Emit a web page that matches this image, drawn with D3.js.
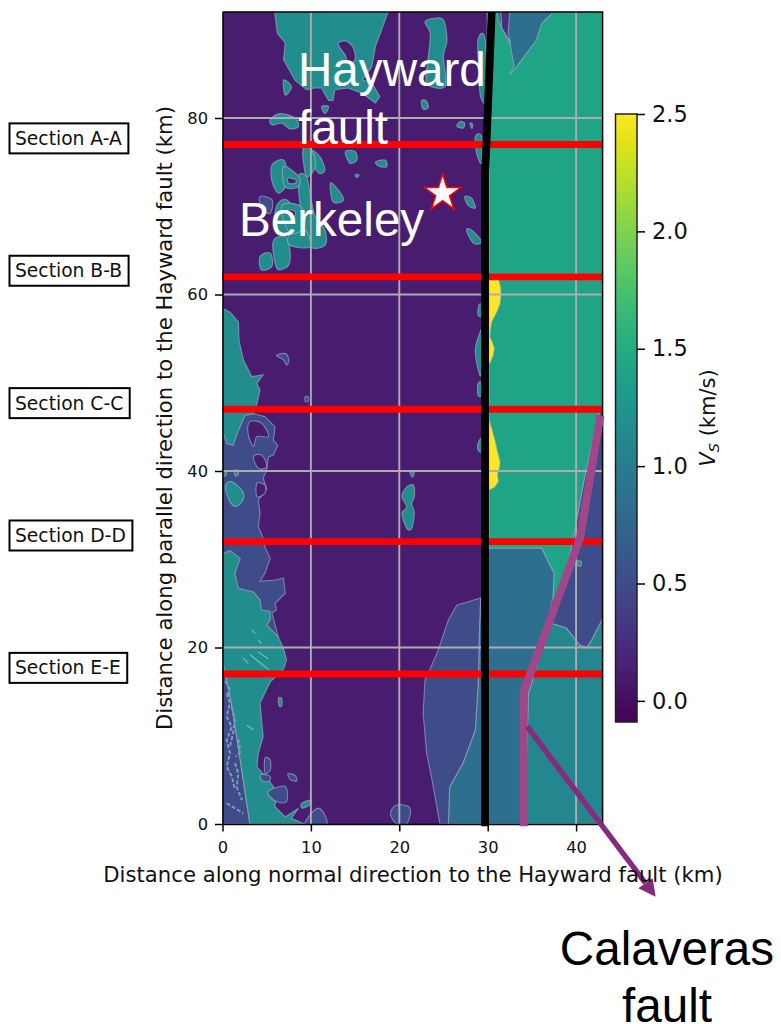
<!DOCTYPE html>
<html>
<head>
<meta charset="utf-8">
<style>
  body { margin: 0; background: #fff; }
  svg { display: block; }
</style>
<script src="https://cdn.jsdelivr.net/npm/d3@7"></script>
</head>
<body>
<script>
// tick labels
const xTicks = [0, 10, 20, 30, 40];
const yTicks = [0, 20, 40, 60, 80];
const cbarTicks = [0, 0.5, 1, 1.5, 2, 2.5];
const sectionNames = ["Section A-A", "Section B-B", "Section C-C", "Section D-D", "Section E-E"];
const sectionKm = [77, 62, 47, 32, 17];

// Vs of each unit (km/s)
const vsBay = 0.12, vsTeal = 1.17, vsGreen = 1.42, vsYellow = 2.5;
const vsBlue = 0.84, vsIndigo = 0.5, vsRightTeal = 1.1;

// unit outlines, [km normal, km parallel]
const greenBlock = [[30.15,92],[43,92],[43,47.7],[42.3,45.4],[41,39.35],[39.7,32.35],[39.3,30.5],[37.6,25],[37.4,25.8],[37.5,28.4],[36.1,31.25],[30.15,31.25]];
const topBlue = [[31.1,92],[37.4,92],[36.1,90.7],[35.5,88.8],[33.1,85.6],[32.5,84.9],[33,85.9],[32.5,88.5],[31.2,91.1]];
const topDark = [[31.5,92],[32.5,92],[32.3,89.6],[32.6,88.5],[31.6,90.2]];
const yellowNorth = [[30.15,61.8],[31.2,61.8],[31.45,60.8],[31.5,59.9],[31.4,59],[31.1,58.2],[30.8,57.6],[30.45,56.9],[30.3,56],[30.25,55.2],[30.5,54.6],[30.75,53.9],[30.6,53.1],[30.25,52.2],[30.15,52.2]];
const yellowSouth = [[30.15,45.8],[30.5,44.6],[30.8,43.5],[31.1,42.2],[31.4,41],[31.3,40.3],[31.1,39.7],[31.2,38.8],[30.8,38.2],[30.25,37.9],[30.15,37.9]];
const basinIndigo = [[29.2,25.6],[26.5,24.8],[25.55,23.1],[24.4,19.7],[23.5,17.6],[22.9,16.3],[22.7,12.5],[23.1,8],[23.7,5],[24.6,0],[25.55,0],[25.7,4.2],[27.2,6.9],[28.6,10.65],[28.95,16.3],[29.05,21.6]];
const basinBlue = [[30.15,31.25],[36.1,31.25],[37.5,28.4],[37.4,25.8],[36.85,23.1],[35.35,17.1],[34.6,14.8],[34.2,0],[25.55,0],[25.7,4.2],[27.2,6.9],[28.6,10.65],[28.95,16.3],[29.05,21.6],[29.2,25.6],[29.7,25.6]];
const eastIndigo = [[43,47.7],[42.3,45.4],[41,39.35],[39.7,32.35],[39.3,30.5],[37.6,25],[36.85,23.1],[37.4,22.7],[38.9,22.2],[40.4,20.3],[41.2,20],[41.75,20.85],[43,23.3]];
const eastTeal = [[36.85,23.1],[37.4,22.7],[38.9,22.2],[40.4,20.3],[41.2,20],[41.75,20.85],[43,23.3],[43,0],[34.2,0],[34.6,14.8],[35.35,17.1]];
const westIndigo = [[0,46.5],[3.5,46.5],[4.8,46.15],[5.95,45],[5.75,43.5],[6.25,42.9],[5.75,41.8],[5.2,41.6],[5,40.1],[4.6,39.2],[5,38],[4.05,36.7],[4.25,35.2],[4.05,33.7],[4.6,32.4],[4.8,31.4],[5.4,30.1],[4.8,28.4],[4.25,27.5],[5.95,27.65],[6.9,27.85],[7.1,26.15],[5.95,25],[6.1,24.25],[5.6,23.9],[6.3,21.2],[0,21]];
const southwestIndigo = [[0,18.6],[1,13.7],[2,7.3],[3.1,0],[0,0]];
const northwestTeal = [[0,58.6],[0.1,58.4],[0.85,58],[1.8,56.9],[1.87,54.8],[2.36,52.6],[3.3,50.7],[4.6,50.9],[3.87,49.9],[4.25,49.2],[3.87,47.5],[3.5,46.5],[2.55,46.3],[1.8,44.6],[1.2,42.9],[0.47,43.1],[0.1,44.2],[0,44.2]];
const southwestTeal = [[0,30.6],[0.85,31],[2,30.1],[1.4,28.4],[1.8,26.7],[3.5,26.3],[4.25,25.4],[4.4,24.25],[5.4,24.1],[5.4,23.1],[5,22.55],[6.3,21.2],[6.9,19.9],[7.25,18.6],[6.9,17.5],[5.4,16.1],[4.25,13.7],[4.6,9.9],[4.05,8],[3.9,6.5],[5.2,5],[6.3,3.5],[5.9,2],[7.1,0.8],[8.6,1.8],[7.8,0.65],[9.3,0],[3.1,0],[2,7.3],[1,13.7],[0,18.6]];
const northIsland = [[5.9,92],[6.2,89.6],[7.1,88.5],[6.9,86.6],[8.2,84.3],[9.5,83.2],[10.4,83.4],[11.2,83.4],[12,82],[12.5,82],[12.7,83.2],[14.2,83.4],[15.8,82.8],[17.3,81.7],[17.8,82.4],[16.9,84],[15.8,84.3],[16.9,85.8],[17.3,88.1],[18,90],[18.6,91.7],[18.8,92]];

// small patches
const tealPatches = [
  [[22.9,90.9],[24,91.3],[25,91.1],[25.4,88.8],[25,87],[25.2,83.6],[23.1,84],[23.3,87],[23.5,89.6]],
  [[22.5,81.9],[23,82],[23.3,81.2],[22.7,81]],
  [[28.9,88.85],[29.7,89],[30,82],[29.2,82.4],[29,85.5]],
  [[5.4,79.8],[6.5,80.5],[8.2,80],[8.6,79],[7.6,78.8],[6.7,79.4],[5.6,79.2]],
  [[5.6,74.7],[6.9,75.25],[7.3,73.7],[7.1,72.2],[6.3,71.5],[5.6,72.8]],
  [[8.6,73.4],[9.5,73.4],[9.9,71.5],[10.5,68.8],[11.6,67.3],[11.6,65.6],[9.9,65.4],[9.3,67.7],[8.8,69.95]],
  [[6.3,70.35],[7.3,70.7],[8.4,68.85],[7.6,66.95],[6.1,66.95],[5.9,68.85]],
  [[5.8,66.2],[7.3,66.4],[7.6,63.6],[6.3,62.8],[5.8,64.3]],
  [[4.25,64.3],[5.4,64.7],[5.6,63.2],[4.4,62.8]],
  [[9.9,76.4],[11,75.65],[11.6,74.1],[10.9,73.75],[10.1,74.9],[9.1,76]],
  [[6.9,74.5],[8.6,73.4],[8.6,72.2],[7.1,72.2]],
  [[7.6,66.95],[9.3,67.3],[9.9,65.4],[7.6,65.6]],
  [[6.7,70],[8.8,70],[9.3,67.7],[7.6,67]],
  [[9.1,76.4],[10.1,76.4],[10.5,74.5],[9.5,73.4]],
  [[13.9,76.2],[15,76.2],[15.2,75.25],[14.4,74.9]],
  [[12.2,72.6],[13.1,71.85],[13.7,70.7],[12.5,70.5]],
  [[17.3,75],[18.4,75.25],[18.6,74.5],[17.8,74.5]],
  [[15.2,73.65],[15.45,73.5],[15.2,73.25],[15,73.45]],
  [[6.9,84.3],[7.8,83.55],[7.1,82.6]],
  [[11.2,81.3],[12,81.3],[11.6,80.5]],
  [[27.4,71.1],[28.2,70.9],[28.6,69.8],[27.8,70.1]],
  [[27.6,67.3],[28.2,67.3],[29.3,66],[28.4,65.8]],
  [[26.9,79.6],[27.4,79.4],[27.2,78.85],[26.5,79.1]],
  [[28,79.4],[28.3,79.3],[28.2,78.8]],
  [[28.6,77.9],[29.3,77.9],[29.3,74.9],[28.75,76]],
  [[29,58.8],[29.3,58.8],[29.3,57.6],[28.9,57.7]],
  [[29.1,55.6],[28.6,53.7],[29,51.2],[29.3,51.2],[29.3,55.6]],
  [[28.9,49.9],[29.3,50],[29.3,48.6],[28.9,48.6]],
  [[28.9,43.1],[29.3,43.7],[29.3,42.2],[28.9,42.4]],
  [[20.85,38.2],[21.6,38.4],[21.7,37.1],[21.4,36.3],[21.7,35.2],[21.4,33.5],[20.85,33.5],[20.3,35.2],[20.85,35.95],[20.3,37.1]],
  [[21.2,39.9],[21.7,39.9],[21.5,39.3]],
  [[0.3,38.2],[1,38.8],[2.2,37.8],[2.4,36.9],[1.6,36],[0.85,36.5]],
  [[8.96,2.35],[10,2.7],[9.9,2.2],[9,1.8]],
  [[6.35,14.3],[6.7,14.2],[6.7,13.4],[6.4,13.4]],
  [[40.1,29.8],[40.6,29.7],[40.5,29.2],[40.2,29.3]],
  [[0,39.9],[0.4,40],[0.4,39.5],[0,39.5]],
  [[1.4,40.1],[1.8,40],[1.7,39.5],[1.4,39.5]]
];
const indigoPatches = [
  [[4.25,71.1],[5.6,70.7],[5.4,69.2],[4.4,69.8]],
  [[6.1,53.1],[7.1,53.3],[7.5,52.6],[7.25,52],[6.9,52.6]],
  [[9.35,48.4],[9.7,48.4],[9.7,47.9],[9.35,47.9]],
  [[7.4,5.7],[8.2,5.5],[8.4,4.9],[7.7,5]],
  [[19,1.2],[19.7,2.15],[21.2,1.8],[20.85,0],[19.7,0]],
  [[10.85,1.8],[11.8,0],[9.35,0]],
  [[4.8,7.45],[5.4,7.25],[5.4,6.1],[4.8,5.75]],
  [[4.4,5.6],[5.4,5.4],[5.2,4.8],[4.4,5]],
  [[5.4,3.85],[7.1,4.25],[7.25,2.55],[6.1,2.55],[5.2,3.3]]
];
const bayHoles = [
  [[13.4,87.8],[13.1,88.5],[14,88.7],[14.8,87.9],[15,86.6],[14.2,86.2],[13.9,87.1]],
  [[3.1,45.6],[4.45,45.4],[5.2,43.9],[3.9,43.9],[3.5,42.8],[2.9,44.2]],
  [[3.5,41.6],[4.45,41.8],[5,40.5],[4.05,40.3]],
  [[3.9,38.6],[4.8,38.4],[4.8,37.5],[3.9,37.1]],
  [[7.4,73.2],[8.3,73],[8.2,72.6],[7.5,72.6]],
  [[7.4,69.6],[8.2,69.4],[8.1,68.8],[7.5,68.9]]
];
const fringeChains = [
  [[0.47,14.8],[0.85,13.7],[0.47,12.2],[1.05,11],[0.47,9.5],[0.85,8],[0.47,6.5],[1.05,5.4],[1.4,3.9]],
  [[1.05,13.3],[1.4,11.8],[1.2,10.3],[0.85,8.8]],
  [[1.4,6.9],[1.8,5.7],[1.6,4.2],[2.2,2.7]],
  [[0.47,2.35],[1.4,1.8],[2.35,1.2]],
  [[0.3,16.2],[0.8,15.3],[0.5,14.3]],
  [[1.8,9.6],[2,8.2],[1.5,7.6]]
];
const tealStreaks = [
  [[4.05,19.5],[5.2,18.7]],
  [[3.1,19.2],[5.2,17.5]],
  [[2.35,18.8],[2.9,18.2]],
  [[2.75,11.2],[3.5,10.65]],
  [[3.3,22],[3.7,21.6]],
  [[4.05,20.85],[4.4,20.45]]
];

// overlays
const haywardFault = [[30.45,92],[29.86,77],[29.7,73.7],[29.7,-0.25]];
const calaverasFault = [[34.07,-0.25],[34.07,15],[40.45,32.4],[42.75,46.3]];
const calaverasArrow = [[34.48,11.03],[47.85,-6.7]];
const calaverasHead = [[49,-8.24],[47.04,-7.29],[48.66,-6.15]];
const berkeley = [24.9, 71.45];

const w = 781;
const h = 1024;

const svg = d3.select("body").append("svg").attr("width", w).attr("height", h);

const xScale = d3.scaleLinear().domain([0, 43]).range([222.5, 602.6]);
const yScale = d3.scaleLinear().domain([0, 92]).range([824, 12.1]);
const vsScale = d3.scaleLinear().domain([-0.09, 2.5]).range([722, 114]);
const vsColor = d3.scaleSequential(d3.interpolateViridis).domain([-0.09, 2.5]);

const straight = d3.line().x((d) => xScale(d[0])).y((d) => yScale(d[1]));
const outline = d3.line().x((d) => xScale(d[0])).y((d) => yScale(d[1])).curve(d3.curveLinearClosed);
const blob = d3.line().x((d) => xScale(d[0])).y((d) => yScale(d[1])).curve(d3.curveCardinalClosed.tension(0));

const contourLine = "rgba(170,180,200,0.6)";

svg.append("clipPath").attr("id", "plot-clip")
  .append("rect")
  .attr("x", xScale(0)).attr("y", yScale(92))
  .attr("width", xScale(43) - xScale(0)).attr("height", yScale(0) - yScale(92));

const map = svg.append("g").attr("clip-path", "url(#plot-clip)");

map.append("rect")
  .attr("x", xScale(0)).attr("y", yScale(92))
  .attr("width", xScale(43) - xScale(0)).attr("height", yScale(0) - yScale(92))
  .attr("fill", vsColor(vsBay));

function addUnits(shapes, value, gen) {
  map.selectAll(null)
    .data(shapes)
    .enter()
    .append("path")
    .attr("d", gen)
    .attr("fill", vsColor(value))
    .attr("stroke", contourLine)
    .attr("stroke-width", 1.1);
}

addUnits([greenBlock], vsGreen, outline);
addUnits([topBlue], vsBlue, outline);
addUnits([topDark], vsIndigo - 0.25, outline);
addUnits([yellowNorth, yellowSouth], vsYellow, outline);
addUnits([eastTeal], vsRightTeal, outline);
addUnits([eastIndigo], vsIndigo, outline);
addUnits([basinBlue], vsBlue, outline);
addUnits([basinIndigo], vsIndigo, outline);
addUnits([westIndigo, southwestIndigo], vsIndigo, outline);
addUnits([northwestTeal, southwestTeal, northIsland], vsTeal, outline);
addUnits(tealPatches, vsTeal, blob);
addUnits(indigoPatches, vsIndigo, blob);
addUnits(bayHoles, vsBay, blob);

map.selectAll(".chain")
  .data(fringeChains)
  .enter()
  .append("path")
  .attr("d", straight)
  .attr("fill", "none")
  .attr("stroke", "#7f9ab8")
  .attr("stroke-width", 2)
  .attr("stroke-dasharray", "4 2");

map.selectAll(".streak")
  .data(tealStreaks)
  .enter()
  .append("path")
  .attr("d", straight)
  .attr("fill", "none")
  .attr("stroke", "#6cc0b8")
  .attr("stroke-width", 1.3);

// Grid
const grid = svg.append("g");
grid.selectAll(".vgrid")
  .data(xTicks.slice(1))
  .enter()
  .append("line")
  .attr("x1", (d) => xScale(d)).attr("x2", (d) => xScale(d))
  .attr("y1", yScale(0)).attr("y2", yScale(92));
grid.selectAll(".hgrid")
  .data(yTicks.slice(1))
  .enter()
  .append("line")
  .attr("x1", xScale(0)).attr("x2", xScale(43))
  .attr("y1", (d) => yScale(d)).attr("y2", (d) => yScale(d));
grid.selectAll("line")
  .attr("stroke", "#adadb0")
  .attr("stroke-width", 1.9);

// Section lines
svg.selectAll(".section-line")
  .data(sectionKm)
  .enter()
  .append("line")
  .attr("x1", xScale(0)).attr("x2", xScale(43))
  .attr("y1", (d) => yScale(d)).attr("y2", (d) => yScale(d))
  .attr("stroke", "#ff0000")
  .attr("stroke-width", 6.8);

// Faults
svg.append("path")
  .attr("d", straight(haywardFault))
  .attr("fill", "none")
  .attr("stroke", "#000")
  .attr("stroke-width", 7.8);

// Axes
const xAxis = d3.axisBottom(xScale).tickValues(xTicks).tickSizeInner(7.5).tickSizeOuter(0).tickPadding(10);
const yAxis = d3.axisLeft(yScale).tickValues(yTicks).tickSizeInner(7.5).tickSizeOuter(0).tickPadding(7);

const gx = svg.append("g").attr("transform", `translate(0, ${yScale(0)})`).call(xAxis);
const gy = svg.append("g").attr("transform", `translate(${xScale(0)}, 0)`).call(yAxis);

[gx, gy].forEach((g) => {
  g.selectAll("text").attr("font-family", "DejaVu Sans").attr("font-size", 16.3).attr("fill", "#111");
  g.selectAll("line").attr("stroke", "#000").attr("stroke-width", 1.5);
  g.select(".domain").attr("stroke", "#000").attr("stroke-width", 1.5);
});

svg.append("path")
  .attr("d", `M${xScale(0)},${yScale(92)}H${xScale(43)}V${yScale(0)}`)
  .attr("fill", "none")
  .attr("stroke", "#000")
  .attr("stroke-width", 1.5);

svg.append("path")
  .attr("d", straight(calaverasFault))
  .attr("fill", "none")
  .attr("stroke", "#a0478a")
  .attr("stroke-width", 8);

svg.append("path")
  .attr("d", straight(calaverasArrow))
  .attr("fill", "none")
  .attr("stroke", "#862a80")
  .attr("stroke-width", 5.4);

svg.append("path")
  .attr("d", outline(calaverasHead))
  .attr("fill", "#862a80");

svg.append("text")
  .attr("x", 413).attr("y", 882)
  .attr("text-anchor", "middle")
  .attr("font-family", "DejaVu Sans").attr("font-size", 21.2).attr("fill", "#111")
  .text("Distance along normal direction to the Hayward fault (km)");

svg.append("text")
  .attr("transform", "translate(172, 418) rotate(-90)")
  .attr("text-anchor", "middle")
  .attr("font-family", "DejaVu Sans").attr("font-size", 21.2).attr("fill", "#111")
  .text("Distance along parallel direction to the Hayward fault (km)");

// Section boxes
sectionKm.forEach((km, i) => {
  const cy = yScale(km) - 6.6;
  const g = svg.append("g");
  const box = g.append("rect")
    .attr("x", 9.5).attr("y", cy - 14.5)
    .attr("height", 30)
    .attr("fill", "#fff").attr("stroke", "#000").attr("stroke-width", 2);
  const label = g.append("text")
    .attr("x", 15).attr("y", cy + 7)
    .attr("font-family", "DejaVu Sans").attr("font-size", 18.7).attr("fill", "#111")
    .text(sectionNames[i]);
  box.attr("width", label.node().getComputedTextLength() + 12);
});

// Colorbar
const cbar = svg.append("g");
const grad = svg.append("defs").append("linearGradient")
  .attr("id", "viridis-bar")
  .attr("x1", 0).attr("x2", 0).attr("y1", 1).attr("y2", 0);
d3.range(0, 1.01, 0.05).forEach((t) => {
  grad.append("stop").attr("offset", t).attr("stop-color", d3.interpolateViridis(t));
});
cbar.append("rect")
  .attr("x", 615.5).attr("y", vsScale(2.5))
  .attr("width", 21.5).attr("height", vsScale(-0.09) - vsScale(2.5))
  .attr("fill", "url(#viridis-bar)")
  .attr("stroke", "#222").attr("stroke-width", 1.5);

const cAxis = d3.axisRight(vsScale).tickValues(cbarTicks).tickFormat(d3.format(".1f")).tickSizeInner(8).tickSizeOuter(0).tickPadding(7);
const gc = svg.append("g").attr("transform", "translate(637, 0)").call(cAxis);
gc.select(".domain").remove();
gc.selectAll("line").attr("stroke", "#000").attr("stroke-width", 1.5);
gc.selectAll("text").attr("font-family", "DejaVu Sans").attr("font-size", 22.5).attr("fill", "#111");

const vsLabel = svg.append("text")
  .attr("transform", "translate(715, 418) rotate(-90)")
  .attr("text-anchor", "middle")
  .attr("font-family", "DejaVu Sans").attr("font-size", 21).attr("fill", "#111");
vsLabel.append("tspan").attr("font-style", "italic").text("V");
vsLabel.append("tspan").attr("font-style", "italic").attr("font-size", 14.5).attr("dy", 4).text("S");
vsLabel.append("tspan").attr("dy", -4).text(" (km/s)");

// Berkeley marker
svg.append("path")
  .attr("d", d3.symbol(d3.symbolStar, 410))
  .attr("transform", `translate(${xScale(berkeley[0])}, ${yScale(berkeley[1])})`)
  .attr("fill", "#fff")
  .attr("stroke", "#ff0000")
  .attr("stroke-width", 1.5);

// Annotations
const notes = [
  { text: "Hayward", x: 298, y: 86, fill: "#fff", anchor: "start" },
  { text: "fault", x: 298, y: 144, fill: "#fff", anchor: "start" },
  { text: "Berkeley", x: 239, y: 236, fill: "#fff", anchor: "start" },
  { text: "Calaveras", x: 667, y: 965, fill: "#000", anchor: "middle" },
  { text: "fault", x: 667, y: 1021.7, fill: "#000", anchor: "middle" }
];
svg.selectAll(".note")
  .data(notes)
  .enter()
  .append("text")
  .attr("x", (d) => d.x).attr("y", (d) => d.y)
  .attr("text-anchor", (d) => d.anchor)
  .attr("font-family", "Liberation Sans").attr("font-size", 47.6)
  .attr("fill", (d) => d.fill)
  .text((d) => d.text);
</script>
</body>
</html>
